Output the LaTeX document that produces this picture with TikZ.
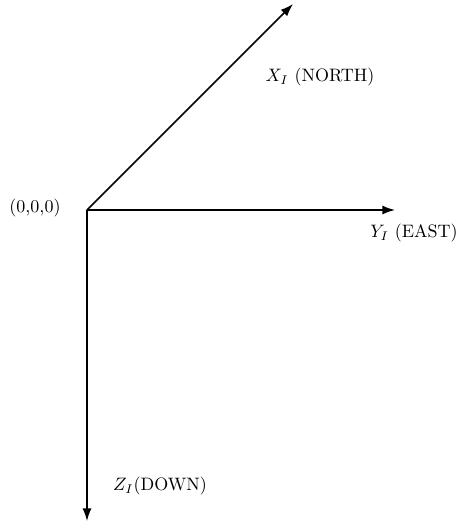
\documentclass[tikz,border=0pt]{standalone}
\usetikzlibrary{arrows.meta}
\begin{document}
\begin{tikzpicture}[x=0.5556pt,y=-0.5556pt,
  axis/.style={line width=0.8pt,-{Latex[length=7pt,width=5pt]}},
  lbl/.style={inner sep=0pt}]
\useasboundingbox (0,0) rectangle (459,521);
\coordinate (o) at (87,210);
\coordinate (xe) at (293,4);
\coordinate (ye) at (395,210);
\coordinate (ze) at (87,521);
\draw[axis] (o) -- (xe);
\draw[axis] (o) -- (ye);
\draw[axis] (o) -- (ze);
\node[lbl] (ol) at (35,208) {(0,0,0)};
\node[lbl] (xl) at (320,77) {$X_I$ (NORTH)};
\node[lbl] (yl) at (414,233) {$Y_I$ (EAST)};
\node[lbl] (zl) at (160,486) {$Z_I$(DOWN)};
\end{tikzpicture}
\end{document}
